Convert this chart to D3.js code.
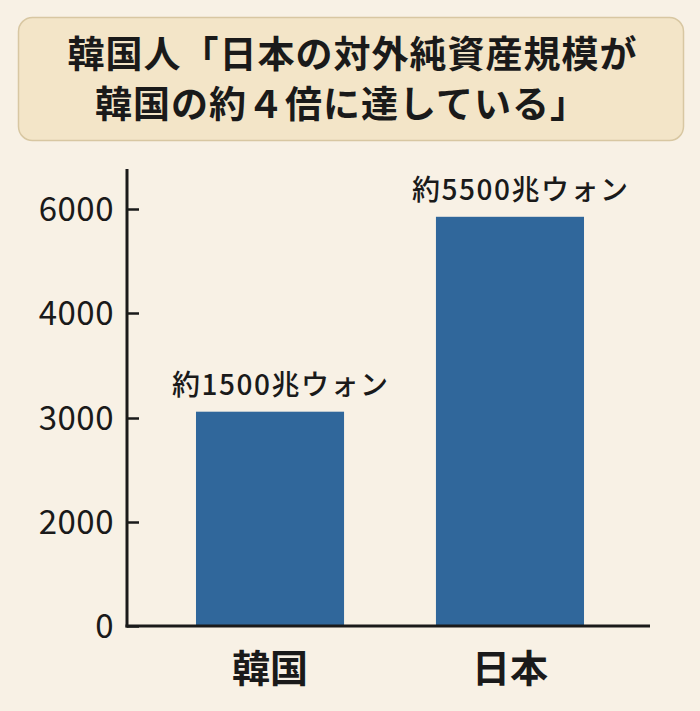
<!DOCTYPE html>
<html><head><meta charset="utf-8">
<script src="https://cdn.jsdelivr.net/npm/d3@7"></script>
<style>body{margin:0;background:#f8f1e5;}svg{display:block;}</style>
</head><body>
<svg id="c" width="700" height="711"></svg>
<script>
const titleLines = ["韓国人「日本の対外純資産規模が", "韓国の約４倍に達している」"];
const categories = ["韓国", "日本"];
const values = [3060, 5850];
const barLabels = ["約1500兆ウォン", "約5500兆ウォン"];
const tickValues = [0, 2000, 3000, 4000, 6000];

const svg = d3.select("#c");
const font = "'Noto Sans CJK JP', 'Noto Sans', sans-serif";
svg.append("rect").attr("width",700).attr("height",711).attr("fill","#f8f1e5");

// title box
svg.append("rect").attr("x",18.5).attr("y",17.5).attr("width",665).attr("height",123)
  .attr("rx",14).attr("fill","#f3e5c8").attr("stroke","#d8c7a2").attr("stroke-width",1.5);
const tls = 1;
svg.selectAll("text.title").data(titleLines).join("text").attr("class","title")
  .attr("x",(d,i)=>(i===0?352:341)+tls/2).attr("y",(d,i)=>68+i*50).attr("text-anchor","middle")
  .attr("font-family",font).attr("font-weight",700).attr("font-size",37)
  .attr("letter-spacing",tls).attr("fill","#1a1a1a")
  .text(d=>d);

// scales
const y = d3.scaleLinear().domain(tickValues).range([626,522,418,313,209]);
const x = d3.scaleBand().domain(categories).range([124,656]).paddingInner(0.383).paddingOuter(0.3);

// bars
svg.selectAll("rect.bar").data(categories).join("rect").attr("class","bar")
  .attr("x",d=>x(d)).attr("width",x.bandwidth())
  .attr("y",(d,i)=>y(values[i])).attr("height",(d,i)=>y(0)-y(values[i]))
  .attr("fill","#30679b");

const bls = 1.5;
svg.selectAll("text.bl").data(categories).join("text").attr("class","bl")
  .attr("x",d=>x(d)+x.bandwidth()/2+bls/2+10).attr("y",(d,i)=>y(values[i])-17)
  .attr("text-anchor","middle").attr("font-family",font).attr("font-weight",500)
  .attr("font-size",28).attr("letter-spacing",bls).attr("fill","#1a1a1a").text((d,i)=>barLabels[i]);

// y axis
const gy = svg.append("g").attr("transform","translate(127,0)")
  .call(d3.axisLeft(y).tickValues(tickValues).tickSize(-12).tickSizeOuter(0).tickPadding(13).tickFormat(d3.format("d")));
gy.select(".domain").remove();
gy.selectAll(".tick line").attr("stroke","#1a1a1a").attr("stroke-width",2.5);
gy.selectAll(".tick text").attr("font-family",font).attr("font-size",33).attr("letter-spacing",0.5)
  .attr("fill","#1a1a1a").attr("dy","0.35em");
svg.append("line").attr("x1",127).attr("x2",127).attr("y1",169).attr("y2",y(0)+1.5)
  .attr("stroke","#1a1a1a").attr("stroke-width",3);

// x axis
svg.append("line").attr("x1",125.5).attr("x2",650).attr("y1",y(0)).attr("y2",y(0))
  .attr("stroke","#1a1a1a").attr("stroke-width",3);
svg.selectAll("text.cat").data(categories).join("text").attr("class","cat")
  .attr("x",d=>x(d)+x.bandwidth()/2).attr("y",682).attr("text-anchor","middle")
  .attr("font-family",font).attr("font-weight",700).attr("font-size",38).attr("fill","#1a1a1a")
  .text(d=>d);
</script>
</body></html>
